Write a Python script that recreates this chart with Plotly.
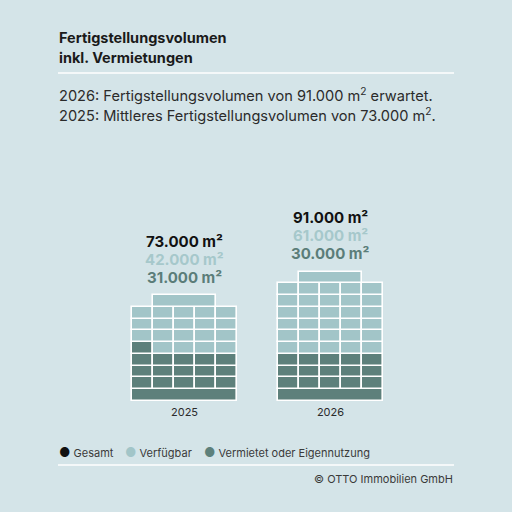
import plotly.graph_objects as go

# ---- data ----
years = ["2025", "2026"]
gesamt = [73000, 91000]
verfuegbar = [42000, 61000]
vermietet = [31000, 30000]
# building floors from ground upward: B = base slab (rented), C = roof (available),
# D = rented / owner-occupied unit, L = available unit
rows_2025 = ["B", "DDDDD", "DDDDD", "DDDDD", "DLLLL", "LLLLL", "LLLLL", "LLLLL", "C"]
rows_2026 = ["B", "DDDDD", "DDDDD", "DDDDD", "LLLLL", "LLLLL", "LLLLL", "LLLLL", "LLLLL", "LLLLL", "C"]
legend_labels = ["Gesamt", "Verfügbar", "Vermietet oder Eigennutzung"]

# ---- style ----
BG = "#d4e4e8"
DARK = "#5d807b"
LIGHT = "#a2c5c8"
BLACK = "#111111"
LBL_LIGHT = "#a6c8cb"
LBL_DARK = "#5b7d79"
FONT = "Inter"
W, H = 512, 512
PLOT_BOTTOM = 401  # pixel row of ground line
GAP = 6.913        # x offset between buildings (in cell widths)
COLS = 5

buildings = [rows_2025, rows_2026]
xs, bases, widths, colors = [], [], [], []
for b, rows in enumerate(buildings):
    x0 = b * GAP
    for r, row in enumerate(rows):
        if row == "B":
            xs.append(x0 + COLS / 2); widths.append(COLS); bases.append(r); colors.append(DARK)
        elif row == "C":
            xs.append(x0 + COLS / 2); widths.append(3); bases.append(r); colors.append(LIGHT)
        else:
            for i, ch in enumerate(row):
                xs.append(x0 + i + 0.5); widths.append(1); bases.append(r)
                colors.append(DARK if ch == "D" else LIGHT)

fig = go.Figure(go.Bar(
    x=xs, y=[1] * len(xs), base=bases, width=widths,
    marker=dict(color=colors, line=dict(color="white", width=1.6)),
    hoverinfo="skip", showlegend=False,
))

def fmt(v):
    return f"{v:,}".replace(",", ".") + " m²"

def py(p):  # pixel row -> paper y
    return (PLOT_BOTTOM - p) / PLOT_BOTTOM

def px(p):  # pixel column -> paper x
    return p / W

ann = []
for b, rows in enumerate(buildings):
    cx = b * GAP + COLS / 2
    top = len(rows)
    for off, val, col in [(4.58, gesamt[b], BLACK), (3.02, verfuegbar[b], LBL_LIGHT), (1.49, vermietet[b], LBL_DARK)]:
        ann.append(dict(x=cx, y=top + off, xref="x", yref="y", text=f"<b>{fmt(val)}</b>",
                        showarrow=False, xanchor="center", yanchor="middle",
                        font=dict(family=FONT, size=15, color=col)))

# header
ann.append(dict(x=px(57), y=py(38), xref="paper", yref="paper", text="<b>Fertigstellungsvolumen</b>",
                showarrow=False, xanchor="left", yanchor="middle", font=dict(family=FONT, size=14.5, color="#1a1a1a")))
ann.append(dict(x=px(57), y=py(58), xref="paper", yref="paper", text="<b>inkl. Vermietungen</b>",
                showarrow=False, xanchor="left", yanchor="middle", font=dict(family=FONT, size=14.5, color="#1a1a1a")))
ann.append(dict(x=px(57), y=py(95), xref="paper", yref="paper",
                text="2026: Fertigstellungsvolumen von 91.000 m<sup>2</sup> erwartet.",
                showarrow=False, xanchor="left", yanchor="middle", font=dict(family=FONT, size=14.6, color="#2b2b2b")))
ann.append(dict(x=px(57), y=py(115), xref="paper", yref="paper",
                text="2025: Mittleres Fertigstellungsvolumen von 73.000 m<sup>2</sup>.",
                showarrow=False, xanchor="left", yanchor="middle", font=dict(family=FONT, size=14.6, color="#2b2b2b")))

# legend
leg_colors = [BLACK, LIGHT, DARK]
leg_x = [57, 123, 202]
for lx, lab, c in zip(leg_x, legend_labels, leg_colors):
    ann.append(dict(x=px(lx), y=py(452), xref="paper", yref="paper",
                    text=f"<span style='color:{c};font-size:12.5px'>●</span> {lab}",
                    showarrow=False, xanchor="left", yanchor="middle",
                    font=dict(family=FONT, size=11, color="#3a3a3a")))

# footer
ann.append(dict(x=px(455), y=py(479), xref="paper", yref="paper", text="© OTTO Immobilien GmbH",
                showarrow=False, xanchor="right", yanchor="middle", font=dict(family=FONT, size=11, color="#3a3a3a")))

shapes = [
    dict(type="line", xref="paper", yref="paper", x0=px(58), x1=px(454), y0=py(73), y1=py(73),
         line=dict(color="white", width=1.5)),
    dict(type="line", xref="paper", yref="paper", x0=px(58), x1=px(454), y0=py(465), y1=py(465),
         line=dict(color="white", width=1.5)),
]

unit_px = 21.12
x_left = -131.7 / unit_px
x_right = x_left + W / unit_px
row_px = 11.77

fig.update_layout(
    width=W, height=H, autosize=False,
    margin=dict(l=0, r=0, t=0, b=H - PLOT_BOTTOM, pad=0),
    paper_bgcolor=BG, plot_bgcolor=BG,
    barmode="overlay", bargap=0,
    annotations=ann, shapes=shapes,
    xaxis=dict(range=[x_left, x_right], showgrid=False, zeroline=False, showline=False,
               tickvals=[COLS / 2, GAP + COLS / 2], ticktext=years, ticks="",
               tickfont=dict(family=FONT, size=11, color="#2b2b2b"), ticklabelstandoff=3,
               fixedrange=True),
    yaxis=dict(range=[0, PLOT_BOTTOM / row_px], visible=False, fixedrange=True),
)

fig.write_html(
    "out.html",
    config={"displayModeBar": False},
    post_script=f"document.body.style.margin='0';document.body.style.padding='0';"
                f"document.body.style.background='{BG}';document.body.style.overflow='hidden';",
)
